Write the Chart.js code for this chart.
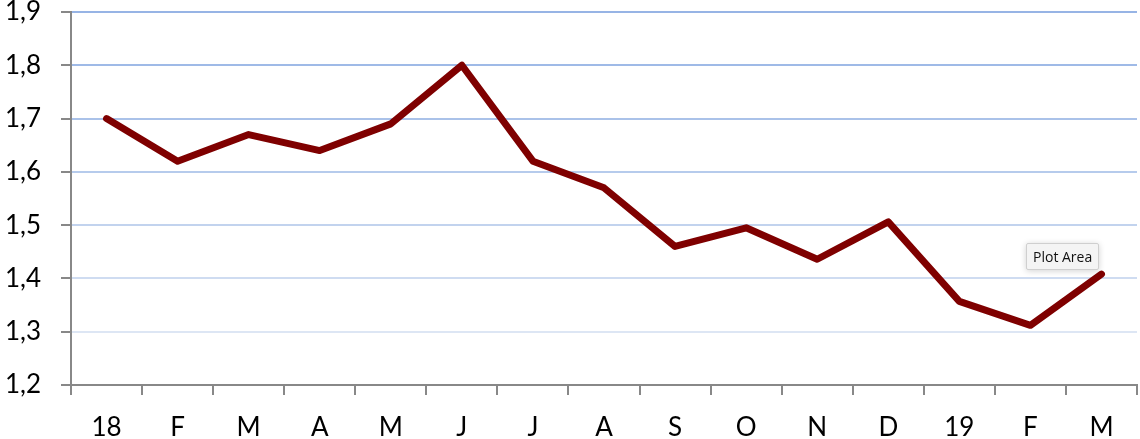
<!DOCTYPE html>
<html>
<head>
<meta charset="utf-8">
<script src="https://cdn.jsdelivr.net/npm/chart.js@4/dist/chart.umd.min.js"></script>
<style>
  html, body { margin: 0; padding: 0; background: #fff; }
  #wrap { position: relative; width: 1140px; height: 439px; }
  #tip {
    position: absolute; left: 1026px; top: 243px;
    padding: 3px 6px; font: 14px "Open Sans", sans-serif; color: #111;
    background: #f4f4f4; border: 1px solid #cfcfcf; border-radius: 2px;
    box-shadow: 0 1px 6px rgba(0,0,0,0.18);
  }
</style>
</head>
<body>
<div id="wrap">
  <canvas id="chart" width="1140" height="439"></canvas>
  <div id="tip">Plot Area</div>
</div>
<script>
'use strict';
// Month labels (Jan 2018 .. Mar 2019) and the plotted values
const months = ['18', 'F', 'M', 'A', 'M', 'J', 'J', 'A', 'S', 'O', 'N', 'D', '19', 'F', 'M'];
const values = [1.70, 1.62, 1.67, 1.64, 1.69, 1.80, 1.62, 1.57, 1.46, 1.495, 1.436, 1.506, 1.357, 1.312, 1.408];
// Y axis range and step
const yMin = 1.2;
const yMax = 1.9;
const yStep = 0.1;

// grid lines fade from blue at top to pale at bottom
const gridColors = ['#888888', '#dde6f4', '#cfdcf1', '#c2d3ee', '#b6cbec', '#aac2e9', '#9fbae7', '#97b4e5'];

Chart.defaults.font.family = 'Lato, "Open Sans", sans-serif';

const ctx = document.getElementById('chart').getContext('2d');
new Chart(ctx, {
  type: 'line',
  data: {
    labels: months,
    datasets: [{
      data: values,
      borderColor: '#7f0000',
      borderWidth: 7,
      pointRadius: 0,
      tension: 0,
      borderCapStyle: 'round',
      borderJoinStyle: 'round'
    }]
  },
  options: {
    responsive: false,
    animation: false,
    layout: {padding: {top: 12, right: 3, left: 0, bottom: 0}},
    plugins: {legend: {display: false}, tooltip: {enabled: false}},
    scales: {
      x: {
        offset: true,
        grid: {offset: true, drawOnChartArea: false, drawTicks: true, tickLength: 10, tickColor: '#888', lineWidth: 2},
        border: {color: '#888', width: 2},
        ticks: {color: '#000', font: {size: 26}, padding: 17, maxRotation: 0, autoSkip: false},
        afterFit: s => { s.height = 54; s.paddingLeft = 0; s.paddingRight = 0; }
      },
      y: {
        min: yMin,
        max: yMax,
        grid: {
          color: c => gridColors[c.index] || '#9ab8e6',
          lineWidth: 2,
          tickLength: 10,
          tickColor: '#888'
        },
        border: {color: '#888', width: 2},
        ticks: {
          stepSize: yStep,
          color: '#000',
          font: {size: 26},
          padding: 20,
          callback: v => v.toFixed(1).replace('.', ',')
        },
        afterFit: s => { s.width = 71; s.paddingTop = 0; s.paddingBottom = 0; }
      }
    }
  }
});
</script>
</body>
</html>
